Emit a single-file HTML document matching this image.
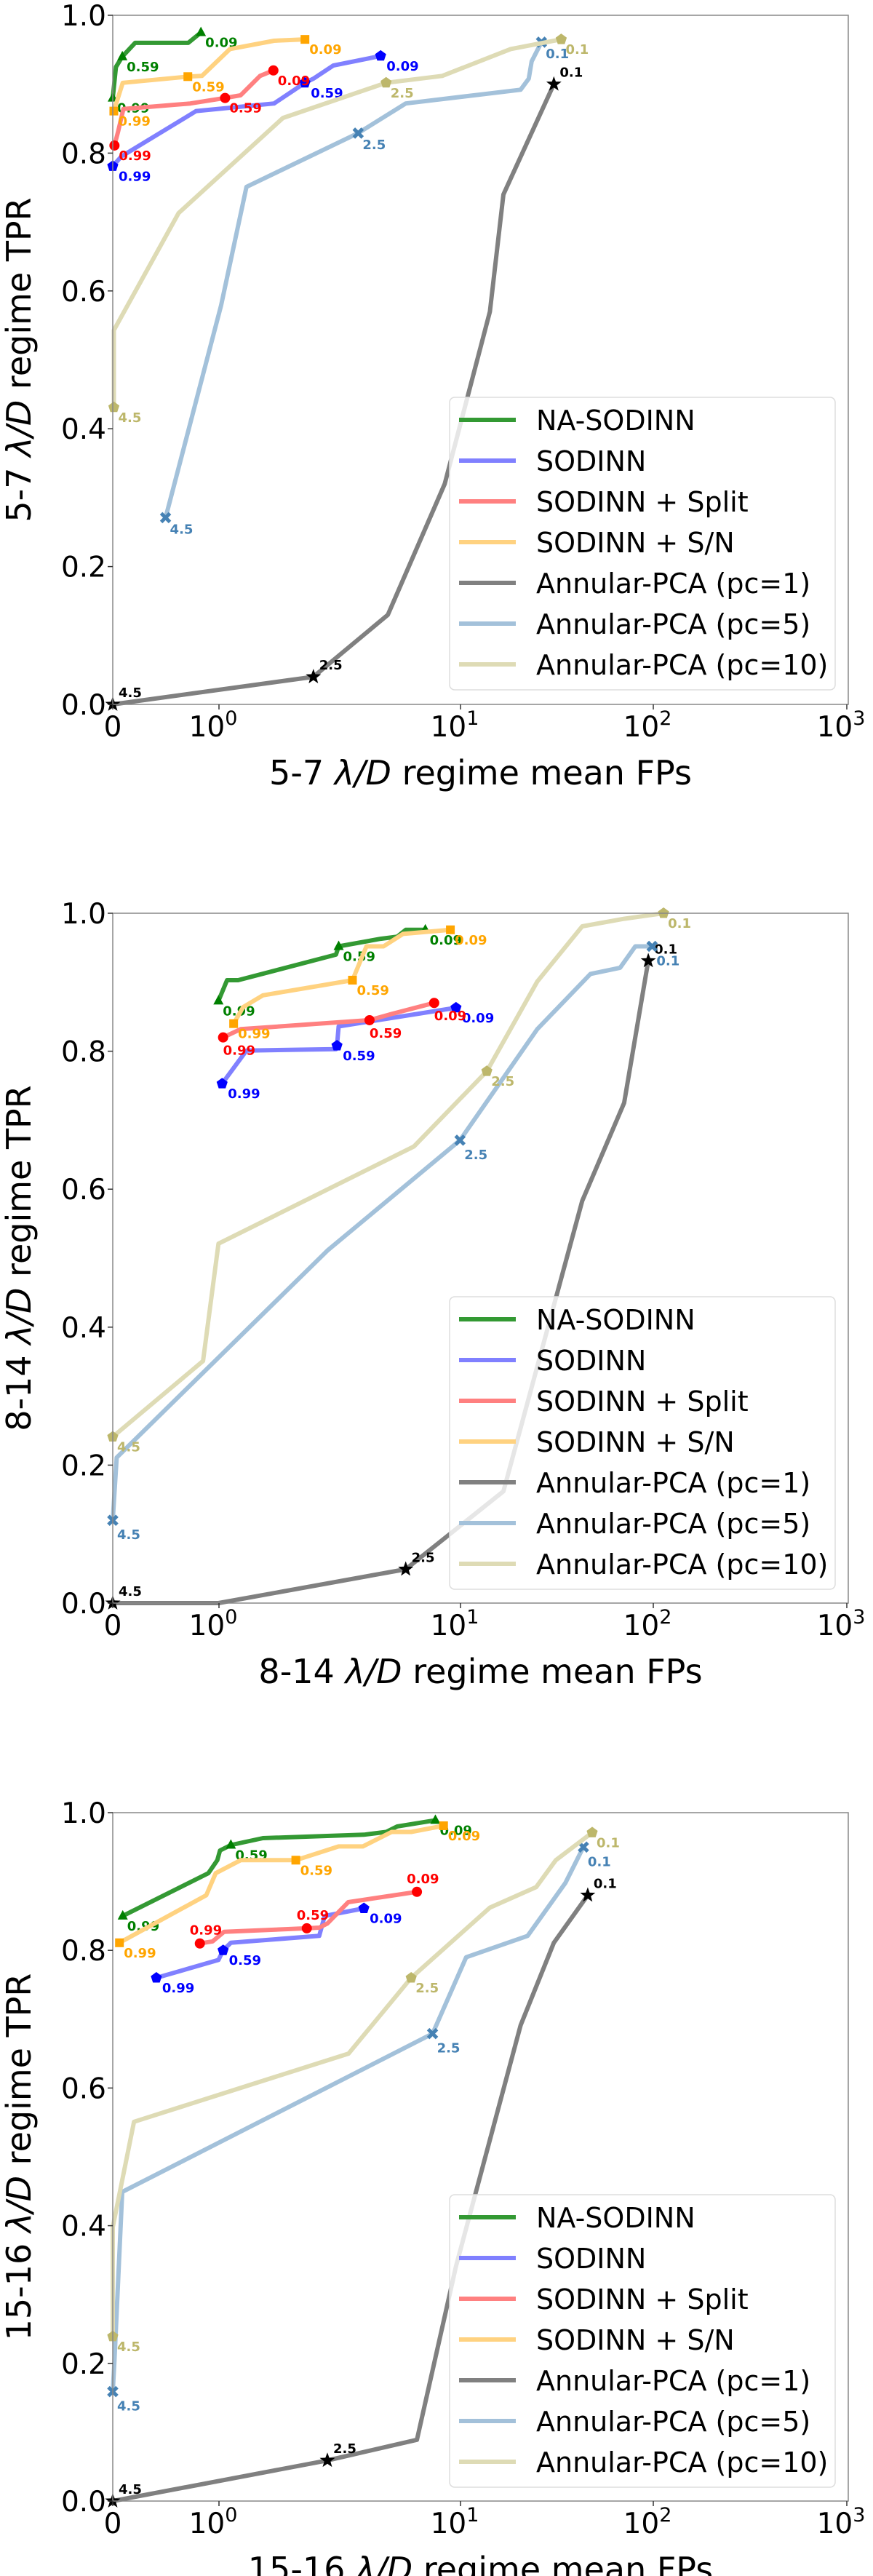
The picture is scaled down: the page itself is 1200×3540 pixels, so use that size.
<!DOCTYPE html>
<html><head><meta charset="utf-8"><style>
html,body{margin:0;padding:0;background:#fff}
svg{display:block;font-family:"DejaVu Sans","Liberation Sans",sans-serif}
</style></head><body>
<svg id="fig" width="1200" height="3540" viewBox="0 0 1200 3540" xmlns="http://www.w3.org/2000/svg"></svg>
<script>
// ---------- data ----------
const seriesNames = ["NA-SODINN","SODINN","SODINN + Split","SODINN + S/N","Annular-PCA (pc=1)","Annular-PCA (pc=5)","Annular-PCA (pc=10)"];
const nnLabels = ["0.99","0.59","0.09"];
const pcaLabels = ["4.5","2.5","0.1"];
const yTicks = [0,0.2,0.4,0.6,0.8,1.0];
const yTickLabels = ["0.0","0.2","0.4","0.6","0.8","1.0"];
const xTicks = [0,1,10,100,1000];
const xTickExp = ["","0","1","2","3"];
const regimes = ["5-7","8-14","15-16"];

// panel 1
const p1NaFp=[0,0.03,0.09,0.21,0.71,0.83], p1NaTpr=[0.88,0.925,0.94,0.96,0.96,0.975], p1NaMk=[0,2,5];
const p1SoFp=[0,0.08,0.785,1.69,2.27,2.46,2.97,4.67], p1SoTpr=[0.781,0.795,0.861,0.872,0.902,0.908,0.927,0.941], p1SoMk=[0,4,7];
const p1SpFp=[0.016,0.05,0.1,0.73,1.06,1.23,1.48,1.68], p1SpTpr=[0.811,0.831,0.864,0.872,0.88,0.884,0.912,0.92], p1SpMk=[0,4,7];
const p1SnFp=[0.01,0.094,0.707,0.84,1.11,1.69,2.27], p1SnTpr=[0.861,0.902,0.911,0.912,0.951,0.963,0.965], p1SnMk=[0,2,6];
const p1P1Fp=[0,2.46,5.0,8.6,14.2,16.7,30.5], p1P1Tpr=[0,0.04,0.13,0.32,0.57,0.74,0.9], p1P1Mk=[0,1,6];
const p1P5Fp=[0.497,1.02,1.3,3.77,5.93,20.5,22.6,23.4,26.3], p1P5Tpr=[0.271,0.579,0.751,0.829,0.872,0.892,0.908,0.933,0.961], p1P5Mk=[0,3,8];
const p1P10Fp=[0.01,0.01,0.62,1.84,4.92,8.4,18.2,33.3], p1P10Tpr=[0.431,0.543,0.713,0.851,0.902,0.912,0.951,0.965], p1P10Mk=[0,4,7];
// panel 2
const p2NaFp=[0.995,1.08,1.2,3.05,3.13,4.67,5.47,5.93,7.15], p2NaTpr=[0.873,0.903,0.903,0.94,0.952,0.963,0.966,0.976,0.976], p2NaMk=[0,4,8];
const p2SoFp=[1.03,1.3,3.05,3.08,3.13,9.58], p2SoTpr=[0.753,0.801,0.803,0.808,0.836,0.863], p2SoMk=[0,3,5];
const p2SpFp=[1.04,1.23,4.2,5.19,7.78], p2SpTpr=[0.82,0.832,0.845,0.854,0.87], p2SpMk=[0,2,4];
const p2SnFp=[1.15,1.26,1.52,3.57,4.08,4.8,5.78,9.08], p2SnTpr=[0.84,0.864,0.881,0.903,0.952,0.952,0.97,0.976], p2SnMk=[0,3,7];
const p2P1Fp=[0,0.995,5.93,16.7,42.8,70.6,94.2], p2P1Tpr=[0,0,0.049,0.162,0.583,0.725,0.931], p2P1Mk=[0,2,6];
const p2P5Fp=[0,0.037,2.81,9.95,25,47.2,67.3,80.7,98.6], p2P5Tpr=[0.12,0.211,0.511,0.671,0.832,0.912,0.921,0.952,0.952], p2P5Mk=[0,3,8];
const p2P10Fp=[0,0.85,0.995,6.42,13.7,25,42.8,70.6,113], p2P10Tpr=[0.241,0.351,0.521,0.662,0.771,0.901,0.981,0.992,1.0], p2P10Mk=[0,4,8];
// panel 3
const p3NaFp=[0.094,0.9,0.984,1.01,1.12,1.52,3.98,4.92,5.47,7.87], p3NaTpr=[0.85,0.912,0.931,0.945,0.953,0.963,0.968,0.972,0.98,0.989], p3NaMk=[0,4,9];
const p3SoFp=[0.41,0.995,1.04,1.12,2.6,2.74,3.98], p3SoTpr=[0.76,0.786,0.8,0.811,0.821,0.85,0.861], p3SoMk=[0,2,6];
const p3SpFp=[0.82,0.94,1.05,2.31,2.6,2.81,3.43,6.6], p3SpTpr=[0.81,0.813,0.827,0.832,0.833,0.839,0.87,0.885], p3SpMk=[0,3,7];
const p3SnFp=[0.063,0.88,0.969,1.23,2.08,3.13,3.94,5.19,6.25,8.51], p3SnTpr=[0.811,0.88,0.912,0.931,0.931,0.951,0.951,0.972,0.972,0.981], p3SnMk=[0,4,9];
const p3P1Fp=[0,2.81,6.6,9.58,20.5,30.5,45.7], p3P1Tpr=[0,0.059,0.089,0.341,0.691,0.811,0.88], p3P1Mk=[0,1,6];
const p3P5Fp=[0,0.016,0.089,7.66,10.7,22.3,35,43.4], p3P5Tpr=[0.159,0.203,0.449,0.679,0.79,0.821,0.898,0.95], p3P5Mk=[0,3,7];
const p3P10Fp=[0,0,0.2,3.44,6.25,14.2,24.7,31.2,48.2], p3P10Tpr=[0.239,0.398,0.551,0.65,0.76,0.862,0.892,0.931,0.971], p3P10Mk=[0,4,8];

// ---------- styles ----------
const lineColors=["#339933","#8080ff","#ff8080","#ffd280","#808080","#a3c1da","#dedbb5"];
const markColors=["#008000","#0000ff","#ff0000","#ffa500","#000000","#4682b4","#bdb76b"];
const markShapes=["tri","pent","circ","sq","star","x","pent"];
const svg=document.getElementById('fig');
const NS="http://www.w3.org/2000/svg";
function mk(tag,attrs,parent){const e=document.createElementNS(NS,tag);for(const k in attrs)e.setAttribute(k,attrs[k]);(parent||svg).appendChild(e);return e;}

const L=155,R=1166;
const xKnotP=[301,633,898,1164];
function xs(v){
  if(v<=1) return L+(xKnotP[0]-L)*v;
  const lv=Math.log10(v);
  let i=Math.min(2,Math.floor(lv));
  return xKnotP[i]+(xKnotP[i+1]-xKnotP[i])*(lv-i);
}

function marker(g,shape,cx,cy,color){
  const r=8;let e;
  if(shape==="circ") e=mk('circle',{cx,cy,r:7,fill:color},g);
  else if(shape==="sq") e=mk('rect',{x:cx-6,y:cy-6,width:12,height:12,fill:color},g);
  else if(shape==="tri") e=mk('polygon',{points:`${cx},${cy-8} ${cx-7},${cy+5} ${cx+7},${cy+5}`,fill:color},g);
  else if(shape==="pent"){let p=[];for(let k=0;k<5;k++){const a=-Math.PI/2+k*2*Math.PI/5;p.push((cx+r*Math.cos(a)).toFixed(1)+","+(cy+r*Math.sin(a)).toFixed(1));}e=mk('polygon',{points:p.join(" "),fill:color},g);}
  else if(shape==="star"){let p=[];for(let k=0;k<10;k++){const a=-Math.PI/2+k*Math.PI/5,rr=k%2?4.5:11;p.push((cx+rr*Math.cos(a)).toFixed(1)+","+(cy+rr*Math.sin(a)).toFixed(1));}e=mk('polygon',{points:p.join(" "),fill:color},g);}
  else if(shape==="x"){e=mk('path',{d:`M${cx-6},${cy-6}L${cx+6},${cy+6}M${cx+6},${cy-6}L${cx-6},${cy+6}`,stroke:color,'stroke-width':5},g);}
  
  
}

function drawPanel(pi,top,bottom,data,legTop,lblOff){
  const ys=v=>bottom-(bottom-top)*v;
  const g=mk('g',{});
  
  
  data.forEach((d,si)=>{
    const sg=mk('g',{},g);
    
    
    const pts=d.fp.map((v,i)=>xs(v).toFixed(1)+","+ys(d.tpr[i]).toFixed(1)).join(" ");
    const pl=mk('polyline',{points:pts,fill:'none',stroke:lineColors[si],'stroke-width':6,'stroke-linejoin':'round'},sg);
    
    
    const labs=si>=4?pcaLabels:nnLabels;
    d.mk.forEach((idx,j)=>{
      const cx=xs(d.fp[idx]),cy=ys(d.tpr[idx]);
      marker(sg,markShapes[si],cx,cy,markColors[si]);
      const off=lblOff[si];
      const t=mk('text',{x:cx+off[0],y:cy+off[1],'font-size':18,'font-weight':'bold',fill:markColors[si]},sg);
      t.textContent=labs[j];
      
      
    });
  });
  const fr=mk('rect',{x:L,y:top,width:R-L,height:bottom-top,fill:'none',stroke:'#888','stroke-width':1.5},g);
  
  
  yTicks.forEach((v,i)=>{
    const y=ys(v);
    mk('line',{x1:L-7,x2:L,y1:y,y2:y,stroke:'#333','stroke-width':1.5},g);
    const t=mk('text',{x:L-9,y:y+14,'font-size':39,'text-anchor':'end',fill:'#000'},g);
    t.textContent=yTickLabels[i];
    
    
  });
  xTicks.forEach((v,i)=>{
    const x=xs(v);
    mk('line',{x1:x,x2:x,y1:bottom,y2:bottom+7,stroke:'#333','stroke-width':1.5},g);
    const t=mk('text',{x:x,y:bottom+44,'font-size':39,'text-anchor':'middle',fill:'#000'},g);
    if(xTickExp[i]===""){t.textContent="0";}
    else{t.textContent="10";const s=mk('tspan',{dy:-16,'font-size':27},t);s.textContent=xTickExp[i];t.setAttribute('x',x-8);}
    
    
  });
  const xt=mk('text',{x:(L+R)/2,y:bottom+110,'font-size':46,'text-anchor':'middle',fill:'#000'},g);
  xt.innerHTML=regimes[pi]+' <tspan font-style="italic">λ/D</tspan> regime mean FPs';
  
  
  const cyy=(top+bottom)/2;
  const yt=mk('text',{x:0,y:0,'font-size':46,'text-anchor':'middle',fill:'#000',transform:`translate(42,${cyy}) rotate(-90)`},g);
  yt.innerHTML=regimes[pi]+' <tspan font-style="italic">λ/D</tspan> regime TPR';
  
  
  const lg=mk('g',{},g);
  
  
  mk('rect',{x:618,y:legTop,width:530,height:402,rx:7,fill:'#fff','fill-opacity':0.8,stroke:'#ddd','stroke-width':1.5},lg);
  seriesNames.forEach((n,si)=>{
    const y=legTop+31+si*56;
    const e=mk('g',{},lg);
    
    
    mk('line',{x1:631,x2:709,y1:y,y2:y,stroke:lineColors[si],'stroke-width':6},e);
    const t=mk('text',{x:737,y:y+14,'font-size':38,fill:'#000'},e);
    t.textContent=n;
  });
}

const offA=[[6,20],[8,20],[6,20],[6,20],[8,-10],[6,22],[6,20]];
const offB=[[6,20],[8,20],[0,24],[6,20],[8,-10],[6,26],[6,20]];
const offC=[[6,20],[8,20],[-14,-12],[6,20],[8,-10],[6,26],[6,20]];
drawPanel(0,21,968,[
 {fp:p1NaFp,tpr:p1NaTpr,mk:p1NaMk},{fp:p1SoFp,tpr:p1SoTpr,mk:p1SoMk},{fp:p1SpFp,tpr:p1SpTpr,mk:p1SpMk},{fp:p1SnFp,tpr:p1SnTpr,mk:p1SnMk},
 {fp:p1P1Fp,tpr:p1P1Tpr,mk:p1P1Mk},{fp:p1P5Fp,tpr:p1P5Tpr,mk:p1P5Mk},{fp:p1P10Fp,tpr:p1P10Tpr,mk:p1P10Mk}],546,offA);
drawPanel(1,1255,2203,[
 {fp:p2NaFp,tpr:p2NaTpr,mk:p2NaMk},{fp:p2SoFp,tpr:p2SoTpr,mk:p2SoMk},{fp:p2SpFp,tpr:p2SpTpr,mk:p2SpMk},{fp:p2SnFp,tpr:p2SnTpr,mk:p2SnMk},
 {fp:p2P1Fp,tpr:p2P1Tpr,mk:p2P1Mk},{fp:p2P5Fp,tpr:p2P5Tpr,mk:p2P5Mk},{fp:p2P10Fp,tpr:p2P10Tpr,mk:p2P10Mk}],1782,offB);
drawPanel(2,2491,3437,[
 {fp:p3NaFp,tpr:p3NaTpr,mk:p3NaMk},{fp:p3SoFp,tpr:p3SoTpr,mk:p3SoMk},{fp:p3SpFp,tpr:p3SpTpr,mk:p3SpMk},{fp:p3SnFp,tpr:p3SnTpr,mk:p3SnMk},
 {fp:p3P1Fp,tpr:p3P1Tpr,mk:p3P1Mk},{fp:p3P5Fp,tpr:p3P5Tpr,mk:p3P5Mk},{fp:p3P10Fp,tpr:p3P10Tpr,mk:p3P10Mk}],3016,offC);
</script>
</body></html>
